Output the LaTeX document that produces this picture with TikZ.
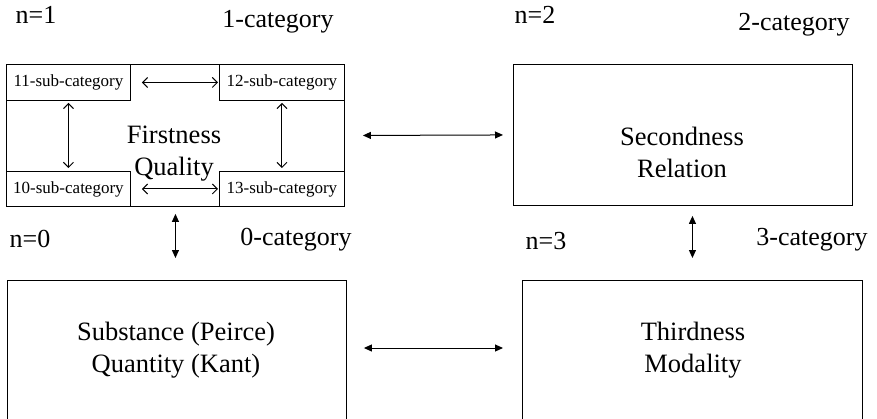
\documentclass[tikz,border=0pt]{standalone}
\usepackage{fontspec}
\setmainfont{Liberation Serif}
\usetikzlibrary{arrows.meta}
\begin{document}
\begin{tikzpicture}[x=1pt,y=-1pt,
  box/.style={draw, line width=0.9pt, anchor=north west, inner sep=0pt},
  subbox/.style={draw, line width=0.9pt, anchor=north west, inner sep=0pt,
    font=\fontsize{17}{20}\selectfont},
  bigtext/.style={align=center, font=\fontsize{26.5}{32}\selectfont},
  lbl/.style={font=\fontsize{26}{30}\selectfont},
  bigarrow/.style={line width=1pt, {Triangle[length=8pt,width=7pt]}-{Triangle[length=8pt,width=7pt]}},
  smallarrow/.style={line width=1pt, {Straight Barb[length=5pt,width=10pt]}-{Straight Barb[length=5pt,width=10pt]}}
]
\useasboundingbox (0,0) rectangle (877,418);

% four main category boxes
\node[box, minimum width=338pt, minimum height=142pt] (first) at (6,64) {};
\node[box, minimum width=339pt, minimum height=141pt] (second) at (513,64) {};
\begin{scope}
\clip (0,0) rectangle (877,418);
\node[box, minimum width=339pt, minimum height=160pt] (third) at (7,280) {};
\node[box, minimum width=340pt, minimum height=160pt] (fourth) at (522,280) {};
\end{scope}

% sub-categories inside the first box
\node[subbox, minimum width=124pt, minimum height=36pt] (s11) at (6,64) {11-sub-category};
\node[subbox, minimum width=125pt, minimum height=36pt] (s12) at (219,64) {12-sub-category};
\node[subbox, minimum width=124pt, minimum height=35pt] (s10) at (6,171) {10-sub-category};
\node[subbox, minimum width=125pt, minimum height=35pt] (s13) at (219,171) {13-sub-category};

\draw[smallarrow] ([xshift=11pt]s11.east) -- ([xshift=-1pt]s12.west);
\draw[smallarrow] ([xshift=11pt]s10.east) -- ([xshift=-1pt]s13.west);
\draw[smallarrow] ([yshift=-2pt]s11.south) -- ([yshift=3pt]s10.north);
\draw[smallarrow] ([yshift=-2pt]s12.south) -- ([yshift=3pt]s13.north);

% box texts
\node[bigtext] (t1) at (174,154) {Firstness\\Quality};
\node[bigtext] (t2) at (682,152) {Secondness\\Relation};
\node[bigtext] (t0) at (176,350) {Substance (Peirce)\\Quantity (Kant)};
\node[bigtext] (t3) at (693,350) {Thirdness\\Modality};

% links between the categories
\draw[bigarrow] ([xshift=18pt]first.east) -- ([xshift=-10pt]second.west);
\draw[bigarrow] ([shift={(17pt,-68pt)}]third.north east) -- ([shift={(-19pt,-68pt)}]fourth.north west);
\draw[bigarrow] ([yshift=-7pt]first.south) -- ([yshift=22pt]first.south |- third.north);
\draw[bigarrow] ([yshift=-10pt]second.south -| fourth.north) -- ([yshift=22pt]fourth.north);

% level labels
\node[lbl] (n1) at (36,15) {n=1};
\node[lbl] (c1) at (278,22) {1-category};
\node[lbl] (n2) at (535,15) {n=2};
\node[lbl] (c2) at (794,25) {2-category};
\node[lbl] (n0) at (30,239) {n=0};
\node[lbl] (c0) at (296,240) {0-category};
\node[lbl] (n3) at (546,241) {n=3};
\node[lbl] (c3) at (812,240) {3-category};
\end{tikzpicture}
\end{document}
